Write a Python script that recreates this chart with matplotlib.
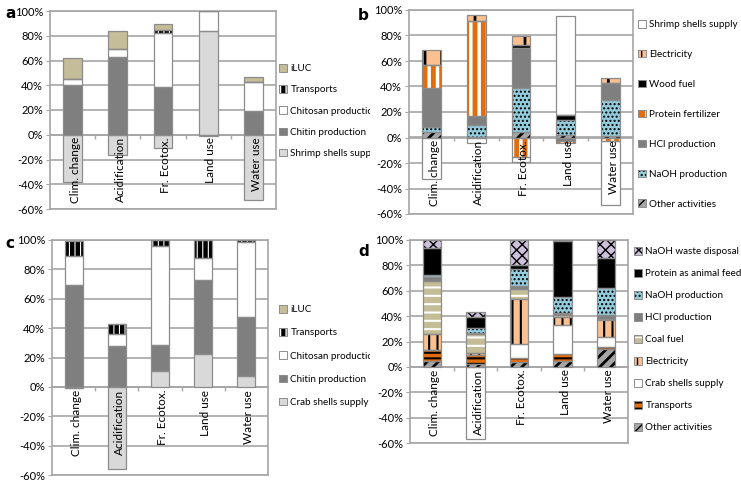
import numpy as np
import matplotlib
matplotlib.use('Agg')
import matplotlib.pyplot as plt
from matplotlib.patches import Patch
from matplotlib.transforms import Bbox
from matplotlib.ticker import FuncFormatter

plt.rcParams['font.family'] = ['Lato', 'DejaVu Sans']
plt.rcParams['hatch.linewidth'] = 1.0

categories = ['Clim. change', 'Acidification', 'Fr. Ecotox.', 'Land use', 'Water use']

# panel a (shrimp shells, %)
a_names = ['Shrimp shells supply', 'Chitin production', 'Chitosan production', 'Transports', 'iLUC']
a_shells = [-38, -16.5, -11, 83.5, -53]
a_chitin = [40, 62.5, 38.5, -1, 19]
a_chitosan = [5, 7, 44, 16.5, 23.5]
a_transports = [0, 0, 2, 0, 0]
a_iluc = [17, 14, 5, 0, 4]

# panel b (shrimp shells, detailed)
b_names = ['Other activities', 'NaOH production', 'HCl production', 'Protein fertilizer',
           'Wood fuel', 'Electricity', 'Shrimp shells supply']
b_other = [4.5, 0.5, 4, 2, 1]
b_naoh = [3.5, 9.5, 34.5, 12, 28.5]
b_hcl = [31, 7, 32, -2.5, 13]
b_protein = [18, 74.5, -15, -1.5, -3]
b_wood = [0, 0, 2, 3.5, 0]
b_elec = [11.5, 4.5, 7, 0, 4.5]
b_shells = [-32.5, -4.5, -4.5, 77.5, -50]

# panel c (crab shells, %)
c_names = ['Crab shells supply', 'Chitin production', 'Chitosan production', 'Transports', 'iLUC']
c_shells = [-0.5, -56, 10.5, 22.5, 7.5]
c_chitin = [69.5, 27.5, 18, 50.5, 40]
c_chitosan = [19.5, 8.5, 67.5, 14.5, 51]
c_transports = [10, 7, 4, 12.5, 1.5]
c_iluc = [-0.5, 0, 0, 0, 0]

# panel d (crab shells, detailed)
d_names = ['Other activities', 'Transports', 'Crab shells supply', 'Electricity', 'Coal fuel',
           'HCl production', 'NaOH production', 'Protein as animal feed', 'NaOH waste disposal']
d_other = [4.5, 2, 4, 5, 14]
d_transports = [9, 7.5, 3, 5.5, 1.5]
d_crab = [0, -57, 11, 22.5, 8]
d_elec = [12.5, 1.5, 35.5, 6, 13.5]
d_coal = [42, 15, 8, 2, 0.5]
d_hcl = [3, 0.5, 2.5, 1.5, 3.5]
d_naoh = [1.5, 4, 13.5, 12.5, 21]
d_feed = [21, 9, 3, 44, 23.5]
d_waste = [6.5, 3.5, 19.5, 1, 14.5]

GRID = '#a6a6a6'
EDGE = '#8c8c8c'
W, H = 741, 482

# (face, hatch, hatch colour, hatch width) per series
a_style = [('#d9d9d9', None, 'none', 1), ('#7f7f7f', None, 'none', 1), ('white', None, 'none', 1),
           ('black', '|||', 'white', 0.8), ('#c4bd97', None, 'none', 1)]
b_style = [('#a6a6a6', '///', 'black', 2.0), ('#93cddd', '....', 'black', 1), ('#7f7f7f', None, 'none', 1),
           ('#e46c0a', '||', 'white', 2.5), ('black', None, 'none', 1), ('#fac090', '|', 'black', 2.0),
           ('white', None, 'none', 1)]
d_style = [('#a6a6a6', '///', 'black', 2.0), ('#e46c0a', '---', 'black', 1.5), ('white', None, 'none', 1),
           ('#fac090', '||', 'black', 1.5), ('#c4bd97', '--', 'white', 1.5), ('#7f7f7f', None, 'none', 1),
           ('#93cddd', '....', 'black', 1), ('black', None, 'none', 1), ('#ccc0da', 'xxx', 'black', 1.0)]


def stacked(ax, series, names, styles, legend_anchor, spacing, clip_right=None):
    x = np.arange(len(categories))
    pos = np.zeros(len(x))
    neg = np.zeros(len(x))
    handles = []
    for vals, name, (fc, h, hc, hlw) in zip(series, names, styles):
        v = np.array(vals, dtype=float)
        bottom = np.where(v >= 0, pos, neg)
        with plt.rc_context({'hatch.linewidth': hlw}):
            ax.bar(x, v, 0.42, bottom=bottom, color=fc, hatch=h, edgecolor=hc, linewidth=0, zorder=3)
            hp = Patch(facecolor=fc, hatch=h, edgecolor=hc, linewidth=0)
        ax.bar(x, v, 0.42, bottom=bottom, fill=False, edgecolor=EDGE, linewidth=0.9, zorder=4)
        pos += np.clip(v, 0, None)
        neg += np.clip(v, None, 0)
        handles.append((hp, Patch(fill=False, edgecolor=EDGE, linewidth=0.7)))
    leg = ax.legend(handles[::-1], names[::-1], loc='upper left', bbox_to_anchor=legend_anchor,
                    bbox_transform=ax.figure.transFigure, frameon=False, fontsize=7.1,
                    handlelength=0.8, handleheight=0.8, handletextpad=0.35,
                    labelspacing=spacing, borderaxespad=0, borderpad=0)
    if clip_right is not None:
        box = Bbox.from_extents(0, 0, clip_right, H)
        for t in leg.get_texts():
            t.set_clip_box(box)
            t.set_clip_on(True)

    ax.set_xlim(-0.5, len(x) - 0.5)
    ax.set_ylim(-60, 100)
    ax.set_yticks(np.arange(-60, 101, 20))
    ax.yaxis.set_major_formatter(FuncFormatter(lambda v, p: '%d%%' % v))
    ax.tick_params(axis='y', labelsize=8, length=3, color=GRID, pad=2)
    ax.set_xticks([])
    ax.grid(axis='y', color=GRID, linewidth=1.2, zorder=0)
    ax.set_axisbelow(True)
    for s in ax.spines.values():
        s.set_color(GRID)
        s.set_linewidth(1.2)

    # category axis crossing at 0%
    zero = ax.secondary_xaxis(60 / 160)
    zero.set_xticks(np.arange(len(x) - 1) + 0.5)
    zero.set_xticklabels([])
    zero.tick_params(length=3, color=GRID, width=1)
    zero.spines['bottom'].set_color(GRID)
    zero.spines['bottom'].set_linewidth(1.2)
    for i, c in enumerate(categories):
        ax.text(i + 0.06, -2, c, rotation=90, ha='center', va='top', fontsize=8.5, zorder=6)


fig = plt.figure(figsize=(7.41, 4.82), dpi=100)


def axes_px(l, r, t, b):
    return fig.add_axes([l / W, 1 - b / H, (r - l) / W, (b - t) / H])


ax_a = axes_px(50, 276, 11, 209)
ax_b = axes_px(409, 633, 10, 214)
ax_c = axes_px(52, 268, 240, 475)
ax_d = axes_px(410, 628, 240, 443)

stacked(ax_a, [a_shells, a_chitin, a_chitosan, a_transports, a_iluc], a_names, a_style,
        (279 / W, 1 - 64 / H), 1.22, clip_right=370)
stacked(ax_b, [b_other, b_naoh, b_hcl, b_protein, b_wood, b_elec, b_shells], b_names, b_style,
        (638 / W, 1 - 20 / H), 2.1)
stacked(ax_c, [c_shells, c_chitin, c_chitosan, c_transports, c_iluc], c_names, a_style,
        (279 / W, 1 - 305 / H), 1.42, clip_right=370)
stacked(ax_d, [d_other, d_transports, d_crab, d_elec, d_coal, d_hcl, d_naoh, d_feed, d_waste],
        d_names, d_style, (634 / W, 1 - 247 / H), 1.3)

for lbl, px, py in [('a', 5, 14), ('b', 358, 16), ('c', 5, 243), ('d', 358, 251)]:
    fig.text(px / W, 1 - py / H, lbl, fontsize=11, fontweight='bold', family='Arial',
             va='center')

fig.savefig('out.png', dpi=100)
